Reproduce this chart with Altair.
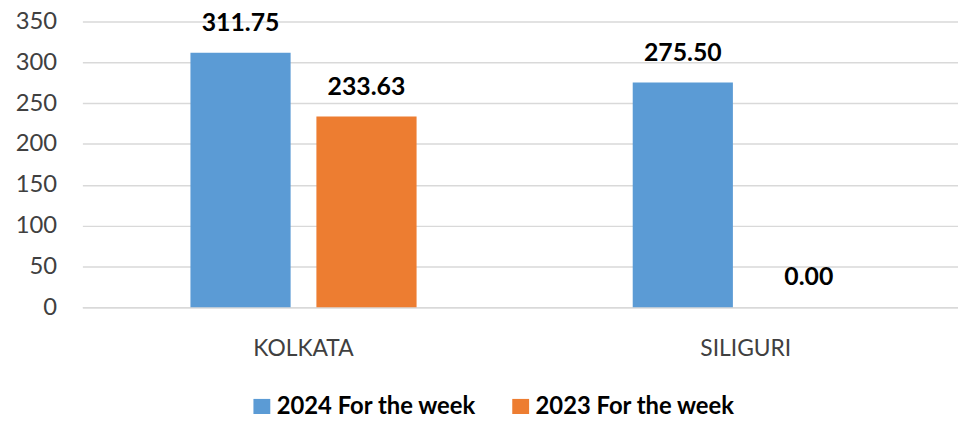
import altair as alt
import pandas as pd

cities = ["KOLKATA", "KOLKATA", "SILIGURI", "SILIGURI"]
series = ["2024 For the week", "2023 For the week", "2024 For the week", "2023 For the week"]
values = [311.75, 233.63, 275.50, 0.00]

series_order = ["2024 For the week", "2023 For the week"]
colors = ["#5B9BD5", "#ED7D31"]

df = pd.DataFrame({"city": cities, "series": series, "value": values})

FONT = "Lato"

x = alt.X("city:N", title=None, sort=["KOLKATA", "SILIGURI"],
          scale=alt.Scale(paddingInner=0, paddingOuter=0, rangeMin=0, rangeMax=892),
          axis=alt.Axis(labelAngle=0, ticks=False, domain=True, domainColor="#D9D9D9",
                        domainWidth=1.5, labelFont=FONT, labelFontSize=23,
                        labelColor="#404040", labelPadding=31, grid=False))
xo = alt.XOffset("series:N", sort=series_order,
                 scale=alt.Scale(paddingInner=0.2047, paddingOuter=0.858))
y = alt.Y("value:Q", title=None,
          scale=alt.Scale(domain=[0, 350]),
          axis=alt.Axis(values=[0, 50, 100, 150, 200, 250, 300, 350], ticks=False,
                        domain=False, grid=True, gridColor="#D9D9D9", gridWidth=1.5,
                        labelFont=FONT, labelFontSize=24, labelColor="#404040",
                        labelPadding=26))

color = alt.Color("series:N", sort=series_order,
                  scale=alt.Scale(domain=series_order, range=colors),
                  legend=alt.Legend(title=None, orient="none", legendX=169, legendY=377,
                                    direction="horizontal", symbolType="square",
                                    symbolSize=289, symbolStrokeWidth=0, labelLimit=0,
                                    labelFont=FONT, labelFontSize=24, labelFontWeight="bold",
                                    labelColor="#000000", columnPadding=32, labelOffset=3))

bars = alt.Chart(df).mark_bar().encode(x=x, xOffset=xo, y=y, color=color)

labels = alt.Chart(df).mark_text(font=FONT, fontSize=25, fontWeight="bold",
                                 color="#000000", baseline="bottom", dy=-17).encode(
    x=x, xOffset=xo, y=y, text=alt.Text("value:Q", format=".2f"))

chart = (bars + labels).properties(
    width=883, height=288,
    autosize=alt.AutoSizeParams(type="none"),
    padding={"left": 75, "top": 12, "right": 0, "bottom": 106},
).configure_view(stroke=None)

chart.save("out.html", embed_options={"renderer": "svg", "actions": False})
